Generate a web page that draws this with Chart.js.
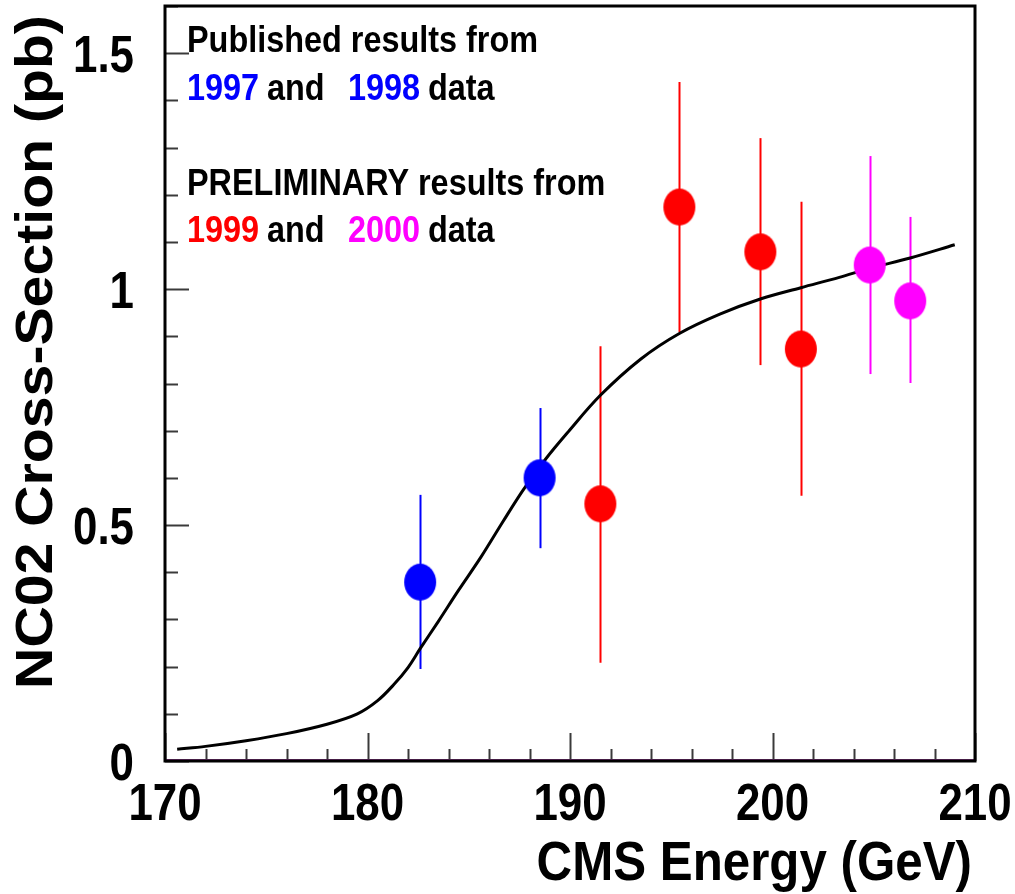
<!DOCTYPE html>
<html>
<head>
<meta charset="utf-8">
<script src="https://cdn.jsdelivr.net/npm/chart.js@4.4.0/dist/chart.umd.min.js"></script>
<style>
  html, body { margin: 0; padding: 0; background: #fff; }
  canvas { display: block; }
</style>
</head>
<body>
<canvas id="chart" width="1015" height="894"></canvas>
<script>
// data
const pubEnergy = [182.6, 188.5];
const pubXsec   = [0.379, 0.600];
const pubLo     = [0.195, 0.451];
const pubHi     = [0.564, 0.748];

const prel99Energy = [191.5, 195.4, 199.4, 201.4];
const prel99Xsec   = [0.545, 1.174, 1.079, 0.873];
const prel99Lo     = [0.208, 0.909, 0.839, 0.562];
const prel99Hi     = [0.879, 1.439, 1.320, 1.185];

const prel00Energy = [204.8, 206.8];
const prel00Xsec   = [1.051, 0.975];
const prel00Lo     = [0.820, 0.801];
const prel00Hi     = [1.282, 1.153];

// theory curve
const curveEnergy = [170.6, 172.0, 174.0, 176.0, 178.0, 179.5, 180.5, 181.3, 182.0, 182.6,
                     183.5, 184.5, 185.6, 186.7, 187.7, 188.8, 189.9, 191.5, 193.5, 195.4, 197.4,
                     199.4, 201.4, 203.3, 204.8, 206.8, 209.0];
const curveXsec   = [0.025, 0.031, 0.043, 0.058, 0.078, 0.100, 0.128, 0.162, 0.198, 0.238,
                     0.296, 0.362, 0.432, 0.508, 0.575, 0.640, 0.697, 0.775, 0.852, 0.906, 0.947,
                     0.979, 1.003, 1.025, 1.044, 1.066, 1.094];

const xTickValues = [170, 180, 190, 200, 210];
const xTickLabels = ['170', '180', '190', '200', '210'];
const yTickValues = [0, 0.5, 1, 1.5];
const yTickLabels = ['0', '0.5', '1', '1.5'];

const xTitle = 'CMS Energy (GeV)';
const yTitle = 'NC02 Cross-Section (pb)';

const legendLines = [
  [['Published results from', 'black']],
  [['1997', 'blue'], ['and', 'black'], ['1998', 'blue'], ['data', 'black']],
  [['PRELIMINARY results from', 'black']],
  [['1999', 'red'], ['and', 'black'], ['2000', 'magenta'], ['data', 'black']],
];

const COLORS = { black: '#000000', blue: '#0000ff', red: '#ff0000', magenta: '#ff00ff' };
const FONT = '"Liberation Sans", Arial, Helvetica, sans-serif';

function toPoints(xs, ys) {
  return xs.map((x, i) => ({ x, y: ys[i] }));
}

function ellipseMarker(color) {
  const c = document.createElement('canvas');
  c.width = 34; c.height = 39;
  const g = c.getContext('2d');
  g.fillStyle = color;
  g.beginPath();
  g.ellipse(17, 19.5, 16, 18.5, 0, 0, Math.PI * 2);
  g.fill();
  return c;
}

// condensed bold text, like the original output
function drawText(ctx, str, x, y, size, sx, align, color, rot) {
  ctx.save();
  ctx.translate(x, y);
  if (rot) ctx.rotate(rot);
  ctx.scale(sx, 1);
  ctx.font = `bold ${size}px ${FONT}`;
  ctx.textAlign = align;
  ctx.textBaseline = 'alphabetic';
  ctx.fillStyle = color;
  ctx.fillText(str, 0, 0);
  ctx.restore();
}

const errorBars = {
  id: 'errorBars',
  beforeDatasetsDraw(chart) {
    const { ctx, scales: { x, y } } = chart;
    ctx.save();
    ctx.lineWidth = 2;
    chart.data.datasets.forEach(ds => {
      if (!ds.errLo) return;
      ctx.strokeStyle = ds.backgroundColor;
      ds.data.forEach((p, i) => {
        const px = Math.round(x.getPixelForValue(p.x)) + 0.5;
        ctx.beginPath();
        ctx.moveTo(px, y.getPixelForValue(ds.errLo[i]));
        ctx.lineTo(px, y.getPixelForValue(ds.errHi[i]));
        ctx.stroke();
      });
    });
    ctx.restore();
  }
};

const frame = {
  id: 'frame',
  afterDraw(chart) {
    const { ctx, chartArea: a, scales: { x, y } } = chart;
    ctx.save();
    // inward ticks
    ctx.strokeStyle = '#3a3a3a';
    ctx.lineWidth = 2;
    x.ticks.forEach(t => {
      const px = Math.round(x.getPixelForValue(t.value)) + 0.5;
      const major = Math.abs(t.value % 10) < 1e-6;
      ctx.beginPath();
      ctx.moveTo(px, a.bottom);
      ctx.lineTo(px, a.bottom - (major ? 28 : 12));
      ctx.stroke();
    });
    y.ticks.forEach(t => {
      const py = Math.round(y.getPixelForValue(t.value)) + 0.5;
      const major = Math.abs(t.value * 2 - Math.round(t.value * 2)) < 1e-6;
      ctx.beginPath();
      ctx.moveTo(a.left, py);
      ctx.lineTo(a.left + (major ? 24 : 13), py);
      ctx.stroke();
    });
    // faint zero line along the bottom
    ctx.strokeStyle = '#8a3a8a';
    ctx.lineWidth = 1;
    ctx.beginPath();
    ctx.moveTo(a.left, a.bottom - 1.5);
    ctx.lineTo(a.right, a.bottom - 1.5);
    ctx.stroke();
    // box
    ctx.strokeStyle = '#000';
    ctx.lineWidth = 3;
    ctx.strokeRect(a.left, a.top, a.right - a.left, a.bottom - a.top);

    // tick labels
    xTickValues.forEach((v, i) => {
      drawText(ctx, xTickLabels[i], x.getPixelForValue(v), a.bottom + 59, 51, 0.86, 'center', '#000');
    });
    yTickValues.forEach((v, i) => {
      drawText(ctx, yTickLabels[i], a.left - 31, y.getPixelForValue(v) + 19, 51, 0.86, 'right', '#000');
    });

    // axis titles
    drawText(ctx, xTitle, a.right - 3, 880, 56, 0.88, 'right', '#000');
    drawText(ctx, yTitle, 52, 352, 52, 1.10, 'center', '#000', -Math.PI / 2);

    // legend text
    const lineY = [52, 100, 195, 242];
    const wordX = [187, 267, 348, 428];
    legendLines.forEach((line, li) => {
      line.forEach(([txt, col], wi) => {
        drawText(ctx, txt, wordX[wi], lineY[li], 36, 0.9, 'left', COLORS[col]);
      });
    });
    ctx.restore();
  }
};

new Chart(document.getElementById('chart'), {
  type: 'scatter',
  data: {
    datasets: [
      {
        label: '1997 and 1998 data',
        data: toPoints(pubEnergy, pubXsec),
        errLo: pubLo, errHi: pubHi,
        backgroundColor: COLORS.blue,
        pointStyle: ellipseMarker(COLORS.blue),
        order: 1
      },
      {
        label: '1999 data',
        data: toPoints(prel99Energy, prel99Xsec),
        errLo: prel99Lo, errHi: prel99Hi,
        backgroundColor: COLORS.red,
        pointStyle: ellipseMarker(COLORS.red),
        order: 1
      },
      {
        label: '2000 data',
        data: toPoints(prel00Energy, prel00Xsec),
        errLo: prel00Lo, errHi: prel00Hi,
        backgroundColor: COLORS.magenta,
        pointStyle: ellipseMarker(COLORS.magenta),
        order: 1
      },
      {
        label: 'prediction',
        data: toPoints(curveEnergy, curveXsec),
        showLine: true,
        borderColor: '#000',
        borderWidth: 3,
        pointRadius: 0,
        tension: 0.35,
        order: 2
      }
    ]
  },
  options: {
    responsive: false,
    animation: false,
    layout: { padding: { top: 6, right: 40, left: 0, bottom: 0 } },
    plugins: {
      legend: { display: false },
      tooltip: { enabled: false }
    },
    scales: {
      x: {
        type: 'linear', min: 170, max: 210,
        ticks: { stepSize: 2, display: false },
        grid: { display: false },
        border: { display: false },
        afterFit: s => { s.height = 133; }
      },
      y: {
        type: 'linear', min: 0, max: 1.6,
        ticks: { stepSize: 0.1, display: false },
        grid: { display: false },
        border: { display: false },
        afterFit: s => { s.width = 165; }
      }
    }
  },
  plugins: [errorBars, frame]
});
</script>
</body>
</html>
